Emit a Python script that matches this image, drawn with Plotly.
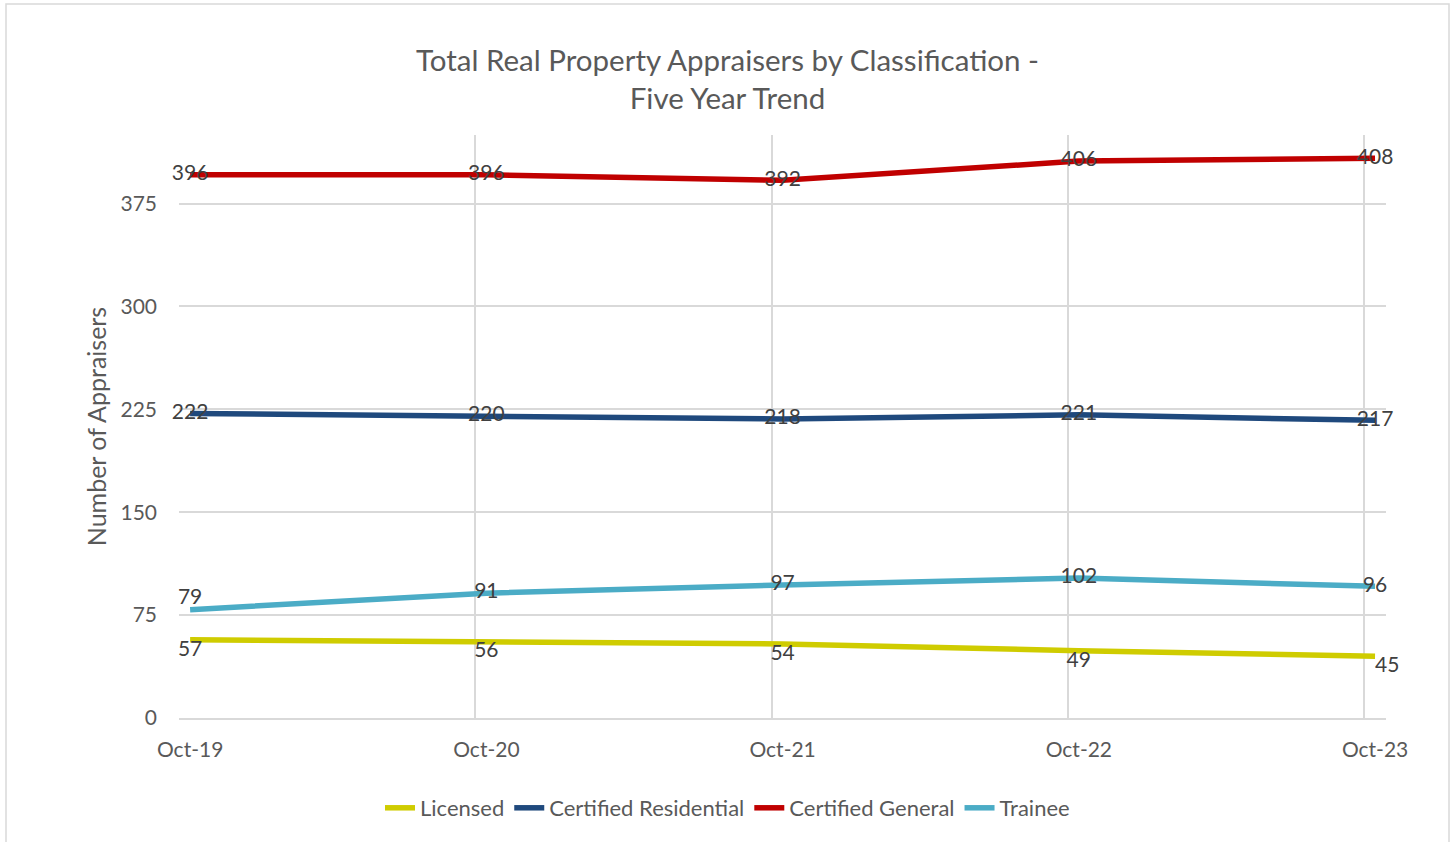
import plotly.graph_objects as go

categories = ["Oct-19", "Oct-20", "Oct-21", "Oct-22", "Oct-23"]
licensed = [57, 56, 54, 49, 45]
cert_res = [222, 220, 218, 221, 217]
cert_gen = [396, 396, 392, 406, 408]
trainee = [79, 91, 97, 102, 96]

series_names = ["Licensed", "Certified Residential", "Certified General", "Trainee"]
series_colors = ["#CFCC00", "#1F497D", "#C00000", "#4BACC6"]
y_ticks = [0, 75, 150, 225, 300, 375]

licensed_pos = ["bottom center", "bottom center", "bottom center", "bottom center", "bottom right"]
cert_res_pos = ["middle center"] * 5
cert_gen_pos = ["middle center"] * 5
trainee_pos = ["top center", "middle center", "middle center", "middle center", "middle center"]

xs = list(range(len(categories)))
grid_shift = -0.037

FONT = "Lato"
fig = go.Figure()
for name, vals, col, pos in zip(series_names, [licensed, cert_res, cert_gen, trainee],
                                series_colors,
                                [licensed_pos, cert_res_pos, cert_gen_pos, trainee_pos]):
    fig.add_trace(go.Scatter(
        x=xs, y=vals, name=name, mode="lines+text",
        line=dict(color=col, width=5.5),
        text=[str(v) for v in vals], textposition=pos,
        textfont=dict(family=FONT, size=21, color="#404040"),
        cliponaxis=False,
    ))

fig.update_layout(
    width=1455, height=842,
    paper_bgcolor="white", plot_bgcolor="white",
    margin=dict(l=179, r=69, t=135, b=124),
    title=dict(
        text="Total Real Property Appraisers by Classification -<br>Five Year Trend",
        x=0.5, xref="container", xanchor="center",
        y=1 - 71 / 842, yref="container", yanchor="middle",
        font=dict(family=FONT, size=29.5, color="#595959"),
    ),
    font=dict(family=FONT, color="#595959"),
    xaxis=dict(
        range=[-0.0375, 4.037],
        tickmode="array",
        tickvals=[x + grid_shift for x in xs],
        ticktext=categories,
        ticklabelshift=11,
        showgrid=True, gridcolor="#D9D9D9", gridwidth=1.5,
        showline=True, linecolor="#D9D9D9", linewidth=1.5,
        zeroline=False, ticks="",
        tickfont=dict(family=FONT, size=21, color="#595959"),
        ticklabelstandoff=12,
    ),
    yaxis=dict(
        range=[0, 425],
        tickmode="array", tickvals=y_ticks,
        showgrid=True, gridcolor="#D9D9D9", gridwidth=1.5,
        zeroline=False, showline=False, ticks="",
        tickfont=dict(family=FONT, size=21, color="#595959"),
        ticklabelstandoff=21,
        title=dict(text="Number of Appraisers", font=dict(family=FONT, size=25, color="#595959"),
                   standoff=6),
    ),
    legend=dict(
        orientation="h", x=0.5, xanchor="center", xref="container",
        y=1 - 808 / 842, yanchor="middle", yref="container",
        font=dict(family=FONT, size=22, color="#595959"),
    ),
    showlegend=True,
)

# chart border
pw = 1386 - 179
ph = 717.7 - 135
fig.add_shape(type="rect", xref="paper", yref="paper",
              x0=(6 - 179) / pw, x1=(1449 - 179) / pw,
              y0=(717.7 - 845) / ph, y1=(717.7 - 4) / ph,
              line=dict(color="#D9D9D9", width=1.5), layer="below")

fig.write_html("out.html", config={"displayModeBar": False},
               post_script="document.body.style.margin='0';")
